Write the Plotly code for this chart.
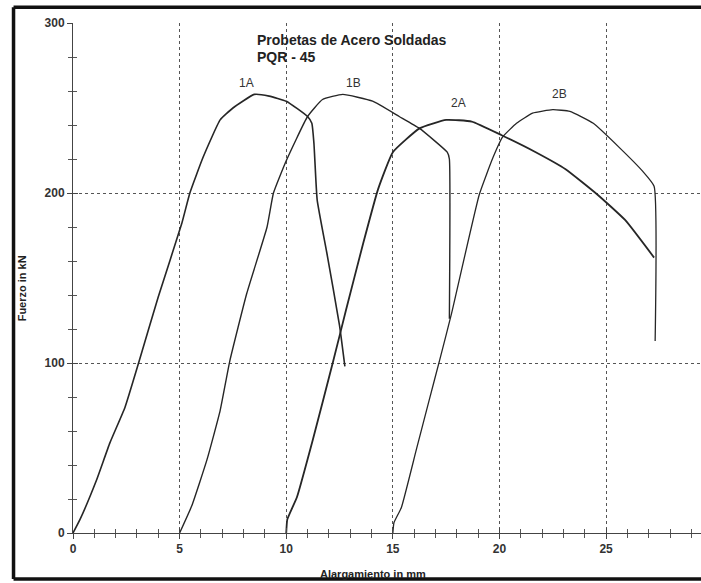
import plotly.graph_objects as go

# ---- data (elongation mm, force kN) ----
x_1A = [0.0, 0.33, 1.1, 1.73, 2.44, 3.1, 4.0, 5.1, 5.48, 6.1, 6.9, 7.5, 8.5, 9.2, 10.0, 11.0, 11.2, 11.3, 11.45, 11.9, 12.5, 12.75]
y_1A = [0, 8, 31, 53, 74, 101, 139, 182, 200, 221, 243, 250, 258, 257, 254, 245, 241, 229, 196, 165, 122, 98]

x_1B = [5.0, 5.57, 6.28, 6.9, 7.35, 8.15, 9.1, 9.4, 10.0, 11.0, 11.7, 12.65, 14.05, 15.3, 16.25, 17.55, 17.65, 17.65]
y_1B = [0, 16, 43, 72, 101, 141, 180, 200, 219, 245, 255, 258, 254, 245, 238, 224, 220, 126]

x_2A = [10.0, 10.05, 10.5, 11.25, 12.2, 12.8, 13.6, 14.3, 15.0, 16.25, 17.5, 18.7, 20.1, 21.7, 23.1, 24.6, 25.9, 27.25]
y_2A = [0, 8, 21, 55, 101, 131, 170, 202, 224, 238, 243, 242, 234, 224, 214, 199, 184, 162]

x_2B = [15.0, 15.05, 15.4, 16.1, 16.7, 17.2, 17.75, 19.05, 19.7, 20.15, 20.8, 21.55, 22.5, 23.3, 24.4, 25.6, 26.7, 27.25, 27.3]
y_2B = [0, 6, 15, 49, 78, 102, 129, 199, 221, 233, 241, 247, 249, 248, 241, 227, 213, 204, 113]

series_names = ["1A", "1B", "2A", "2B"]
series_x = [x_1A, x_1B, x_2A, x_2B]
series_y = [y_1A, y_1B, y_2A, y_2B]
series_width = [1.6, 1.4, 1.8, 1.3]

label_x = [8.15, 13.15, 18.1, 22.8]
label_y = [265, 265, 253, 258]

title_lines = ["Probetas de Acero Soldadas", "PQR - 45"]
x_title = "Alargamiento in mm"
y_title = "Fuerzo in kN"

x_ticks = [0, 5, 10, 15, 20, 25]
y_ticks = [0, 100, 200, 300]

FONT = "Liberation Sans, Arial, sans-serif"
LINE = "#262626"

fig = go.Figure()
for name, xs, ys, w in zip(series_names, series_x, series_y, series_width):
    fig.add_trace(go.Scatter(x=xs, y=ys, mode="lines", name=name,
                             line=dict(color=LINE, width=w, shape="spline", smoothing=0.4),
                             showlegend=False))

# invisible trace on overlay axes (for the ticks on the other side of the axis lines)
fig.add_trace(go.Scatter(x=[None], y=[None], xaxis="x2", yaxis="y2", showlegend=False))

XR = [0, 29.45]
YR = [0, 300]

fig.update_layout(
    width=701, height=583,
    margin=dict(l=73, r=0, t=23, b=50),
    paper_bgcolor="white", plot_bgcolor="white",
    font=dict(family=FONT, color="#222"),
    xaxis=dict(range=XR, tickvals=x_ticks, showgrid=True, gridcolor="#555",
               griddash="dot", gridwidth=1, zeroline=False,
               showline=True, linecolor="#444", linewidth=1,
               ticks="outside", ticklen=5, tickcolor="#444",
               minor=dict(dtick=1, ticks="outside", ticklen=4, tickcolor="#555", showgrid=False),
               tickfont=dict(family=FONT, size=12, color="#333", weight="bold")),
    yaxis=dict(range=YR, tickvals=y_ticks, showgrid=True, gridcolor="#555",
               griddash="dot", gridwidth=1, zeroline=False,
               showline=True, linecolor="#444", linewidth=1,
               ticks="outside", ticklen=5, tickcolor="#444",
               minor=dict(dtick=20, ticks="outside", ticklen=4, tickcolor="#555", showgrid=False),
               tickfont=dict(family=FONT, size=12, color="#333", weight="bold")),
    xaxis2=dict(range=XR, overlaying="x", showgrid=False, zeroline=False,
                showticklabels=False, tickvals=x_ticks, ticks="inside", ticklen=5,
                tickcolor="#444", anchor="y",
                minor=dict(dtick=1, ticks="inside", ticklen=4, tickcolor="#555", showgrid=False)),
    yaxis2=dict(range=YR, overlaying="y", showgrid=False, zeroline=False,
                showticklabels=False, tickvals=y_ticks, ticks="inside", ticklen=5,
                tickcolor="#444", anchor="x",
                minor=dict(dtick=20, ticks="inside", ticklen=4, tickcolor="#555", showgrid=False)),
)

# title block
for i, t in enumerate(title_lines):
    fig.add_annotation(x=8.52, y=290 - i * 10, xref="x", yref="y", text=t,
                       showarrow=False, xanchor="left", yanchor="middle",
                       font=dict(family=FONT, size=14, color="#222", weight="bold"))

# curve labels
for name, lx, ly in zip(series_names, label_x, label_y):
    fig.add_annotation(x=lx, y=ly, xref="x", yref="y", text=name, showarrow=False,
                       xanchor="center", yanchor="middle",
                       font=dict(family=FONT, size=12, color="#333"))

# axis titles
fig.add_annotation(x=0.478, y=-0.08, xref="paper", yref="paper", text=x_title,
                   showarrow=False, xanchor="center", yanchor="middle",
                   font=dict(family=FONT, size=11, color="#222", weight="bold"))
fig.add_annotation(x=-0.081, y=0.48, xref="paper", yref="paper", text=y_title,
                   showarrow=False, xanchor="center", yanchor="middle", textangle=-90,
                   font=dict(family=FONT, size=11, color="#222", weight="bold"))

# scanned frame around the chart (left, top, bottom edges; right edge is cut off)
frame = dict(color="#111", width=3.5)
fig.add_shape(type="line", xref="paper", yref="paper", x0=-0.0947, x1=-0.0947, y0=-0.09, y1=1.031, line=frame)
fig.add_shape(type="line", xref="paper", yref="paper", x0=-0.0947, x1=1.2, y0=1.031, y1=1.031, line=frame)
fig.add_shape(type="line", xref="paper", yref="paper", x0=-0.0947, x1=1.2, y0=-0.09, y1=-0.09, line=frame)

fig.write_html("out.html", config={"displayModeBar": False},
               post_script="document.body.style.margin='0';document.body.style.overflow='hidden';")
